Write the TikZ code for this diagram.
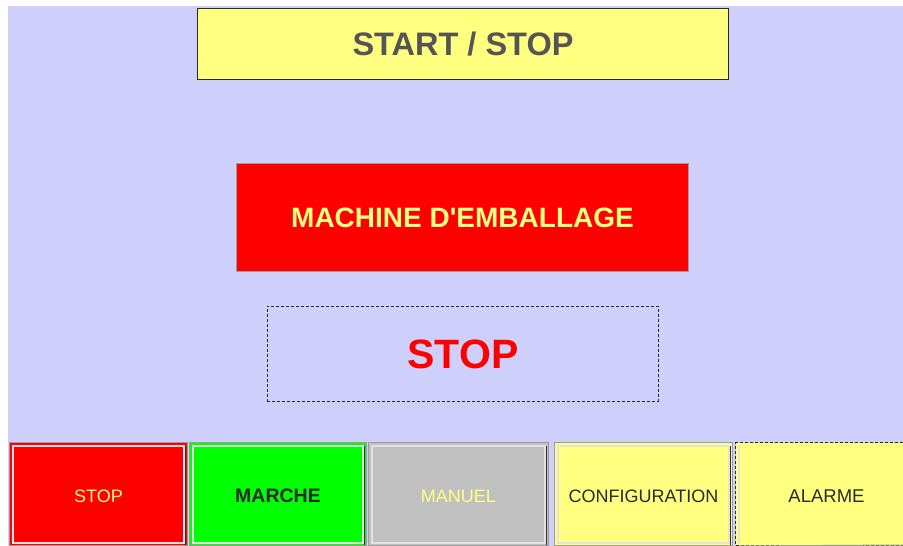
\documentclass[tikz,border=0pt]{standalone}
\usepackage{fontspec}
\setmainfont{Liberation Sans}[Ligatures=TeXOff]
\definecolor{panel}{HTML}{CFCFFC}
\definecolor{paleyellow}{HTML}{FFFF80}
\definecolor{hmired}{HTML}{FF0000}
\definecolor{hmigreen}{HTML}{00FF00}
\definecolor{hmigray}{HTML}{C0C0C0}
\definecolor{darktext}{HTML}{2A2A2A}
\definecolor{titletext}{HTML}{555555}
\definecolor{edgegray}{HTML}{9C9C9C}
\definecolor{bevellight}{HTML}{E2E2E2}
\definecolor{beveldark}{HTML}{303030}
\tikzset{
  box/.style={rectangle, anchor=north west, inner sep=0pt, line width=1pt},
  btn/.style={box, minimum height=103pt, draw=edgegray, text height=17pt, text depth=0pt,
              font=\fontsize{18}{20}\selectfont},
}
% inner bevel of a push button: light frame, dark lower-right edge
\newcommand\btnbevel[1]{%
  \draw[bevellight, line width=1.2pt]
    ([xshift=4pt,yshift=-4pt]#1.north west) rectangle ([xshift=-4pt,yshift=3pt]#1.south east);
  \draw[beveldark, line width=1pt]
    ([xshift=-2.5pt,yshift=-4pt]#1.north east) -- ([xshift=-2.5pt,yshift=1.5pt]#1.south east);
}
\begin{document}
\begin{tikzpicture}[x=1pt, y=-1pt]
  \useasboundingbox (0,0) rectangle (903,546);
  \fill[white] (0,0) rectangle (903,546);
  \fill[panel] (8,6) rectangle (903,546);

  % title bar
  \node[box, draw=darktext, fill=paleyellow, minimum width=531pt, minimum height=71pt,
        font=\bfseries\fontsize{32.5}{34}\selectfont, text=titletext] (title) at (197,8) {START / STOP};

  % machine name banner
  \node[box, draw=edgegray, fill=hmired, minimum width=452pt, minimum height=108pt,
        font=\bfseries\fontsize{28}{30}\selectfont, text=paleyellow] (machine) at (236,163)
        {MACHINE D'EMBALLAGE};

  % current state
  \node[box, draw=darktext, dash pattern=on 3pt off 2pt, line width=0.8pt, minimum width=391pt, minimum height=95pt,
        font=\bfseries\fontsize{41}{43}\selectfont, text=hmired] (state) at (267,306) {STOP};

  % bottom button row
  \node[btn, fill=hmired, minimum width=178pt, text=paleyellow] (bstop) at (9,442) {STOP};
  \node[btn, fill=hmigreen, minimum width=177pt, text=darktext,
        font=\bfseries\fontsize{19.5}{21}\selectfont] (bmarche) at (189,442) {MARCHE};
  \node[btn, fill=hmigray, minimum width=180pt, text=paleyellow] (bmanuel) at (368,442) {MANUEL};
  \node[btn, fill=paleyellow, minimum width=178pt, text=darktext] (bconfig) at (554,442) {CONFIGURATION};
  \node[btn, fill=paleyellow, draw=darktext, dash pattern=on 3pt off 2pt, minimum width=182pt,
        text=darktext, font=\fontsize{18.5}{20}\selectfont] (balarme) at (735,442) {ALARME};

  \btnbevel{bstop}
  \btnbevel{bmarche}
  \btnbevel{bmanuel}
  \btnbevel{bconfig}
  \draw[bevellight, line width=1.2pt]
    ([xshift=4pt,yshift=-4pt]balarme.north west) -- ([xshift=4pt,yshift=3pt]balarme.south west);
  \draw[edgegray, line width=1pt] ([xshift=4pt]balarme.south west) -- (903,545);
\end{tikzpicture}
\end{document}
